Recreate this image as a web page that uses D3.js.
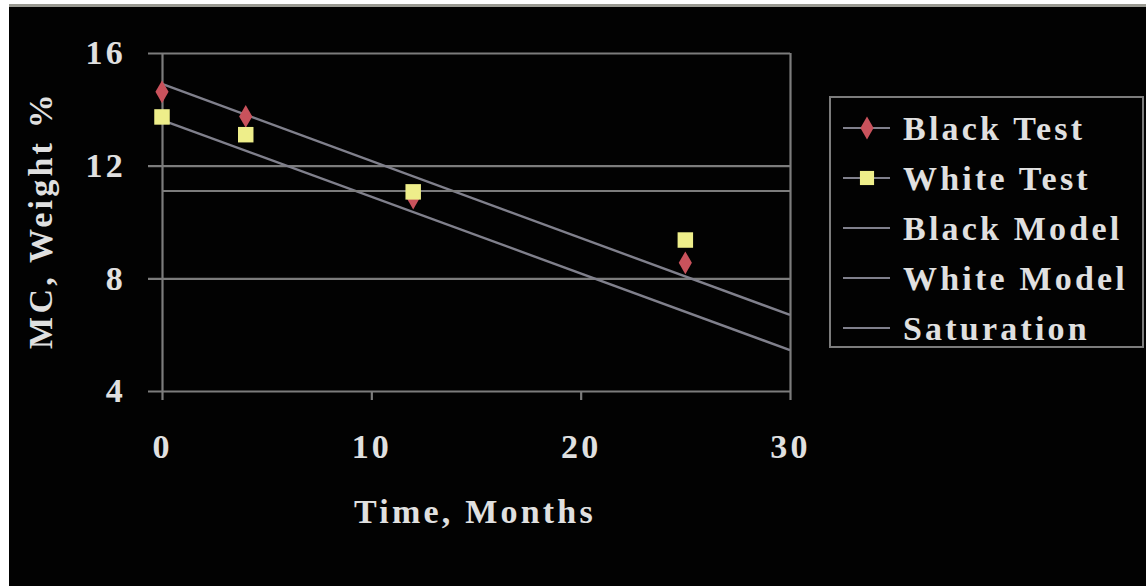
<!DOCTYPE html>
<html>
<head>
<meta charset="utf-8">
<script src="https://cdn.jsdelivr.net/npm/d3@7"></script>
<style>
  html, body { margin: 0; padding: 0; background: #ffffff; }
  svg { display: block; }
  text { font-family: "Liberation Serif", "Times New Roman", serif; font-weight: bold; fill: #e0e0e0; }
</style>
</head>
<body>
<svg id="chart" width="1146" height="586"></svg>
<script>
// ---- data ----
const months = [0, 4, 12, 25];
const blackTest = [14.62, 13.75, 10.85, 8.55];
const whiteTest = [13.73, 13.1, 11.07, 9.36];
const modelMonths = [0, 30];
const blackModel = [14.9, 6.7];
const whiteModel = [13.62, 5.45];
const saturation = [11.1, 11.1];
const xTicks = [0, 10, 20, 30];
const yTicks = [4, 8, 12, 16];
const legendLabels = ["Black Test", "White Test", "Black Model", "White Model", "Saturation"];

const svg = d3.select("#chart");
const W = 1146, H = 586;

// background panel
svg.append("rect").attr("x", 0).attr("y", 0).attr("width", W).attr("height", H).attr("fill", "#ffffff");
svg.append("rect").attr("x", 9).attr("y", 4).attr("width", W - 9).attr("height", 3).attr("fill", "#9a9a92");
svg.append("rect").attr("x", 9).attr("y", 7).attr("width", W - 9).attr("height", H - 7).attr("fill", "#020202");

const x = d3.scaleLinear().domain([0, 30]).range([162, 790]);
const y = d3.scaleLinear().domain([4, 16]).range([391, 53]);
const gridColor = "#7c7c7c";
const fontSize = 34;
const ls = 3.2;

// horizontal gridlines + y labels
const yAxis = svg.append("g").attr("transform", "translate(148,0)")
  .call(d3.axisLeft(y).tickValues(yTicks).tickSize(-(790 - 148)).tickPadding(22).tickFormat(d3.format("d")));
yAxis.select(".domain").remove();
yAxis.selectAll("line").attr("stroke", gridColor).attr("stroke-width", 2.2);
yAxis.selectAll("text").attr("font-size", fontSize).attr("letter-spacing", ls)
  .attr("font-family", "Liberation Serif").attr("fill", "#e0e0e0");

// x axis ticks + labels
const xAxis = svg.append("g").attr("transform", "translate(0,391)")
  .call(d3.axisBottom(x).tickValues(xTicks).tickSize(9).tickPadding(34).tickFormat(d3.format("d")));
xAxis.select(".domain").remove();
xAxis.selectAll("line").attr("stroke", gridColor).attr("stroke-width", 2.2);
xAxis.selectAll("text").attr("font-size", fontSize).attr("letter-spacing", ls)
  .attr("font-family", "Liberation Serif").attr("fill", "#e0e0e0");

// vertical frame lines at 0 and 30
const frame = svg.append("g").attr("transform", "translate(0,391)")
  .call(d3.axisTop(x).tickValues([0, 30]).tickSize(391 - 53).tickFormat(""));
frame.select(".domain").remove();
frame.selectAll("line").attr("stroke", gridColor).attr("stroke-width", 2.2);

// lines
const line = d3.line().x(d => x(d[0])).y(d => y(d[1]));
const lineColor = "#80808c";
[blackModel, whiteModel].forEach(s => {
  svg.append("path").datum(modelMonths.map((m, i) => [m, s[i]]))
    .attr("d", line).attr("fill", "none").attr("stroke", lineColor).attr("stroke-width", 2.4);
});
svg.append("path").datum(modelMonths.map((m, i) => [m, saturation[i]]))
  .attr("d", line).attr("fill", "none").attr("stroke", gridColor).attr("stroke-width", 2.2);

// markers
const redC = "#c9525c", yelC = "#eeee8a";
const diamond = d3.symbol().type(d3.symbolDiamond).size(150);
const square = d3.symbol().type(d3.symbolSquare).size(240);
svg.append("g").selectAll("path").data(months.map((m, i) => [m, blackTest[i]])).join("path")
  .attr("d", diamond).attr("transform", d => `translate(${x(d[0])},${y(d[1])})`).attr("fill", redC);
svg.append("g").selectAll("path").data(months.map((m, i) => [m, whiteTest[i]])).join("path")
  .attr("d", square).attr("transform", d => `translate(${x(d[0])},${y(d[1])})`).attr("fill", yelC);

// axis titles
svg.append("text").attr("x", 475).attr("y", 523).attr("text-anchor", "middle")
  .attr("font-size", fontSize).attr("letter-spacing", ls).text("Time, Months");
svg.append("text").attr("transform", "translate(52,220) rotate(-90)").attr("text-anchor", "middle")
  .attr("font-size", fontSize).attr("letter-spacing", ls).text("MC, Weight %");

// legend
const lg = svg.append("g");
lg.append("rect").attr("x", 830).attr("y", 97).attr("width", 313).attr("height", 250)
  .attr("fill", "none").attr("stroke", gridColor).attr("stroke-width", 2);
legendLabels.forEach((lab, i) => {
  const cy = 128 + i * 50;
  lg.append("line").attr("x1", 843).attr("x2", 890).attr("y1", cy).attr("y2", cy)
    .attr("stroke", lineColor).attr("stroke-width", 2);
  if (i === 0) lg.append("path").attr("d", diamond).attr("transform", `translate(867,${cy})`).attr("fill", redC);
  if (i === 1) lg.append("path").attr("d", d3.symbol().type(d3.symbolSquare).size(200)).attr("transform", `translate(867,${cy})`).attr("fill", yelC);
  lg.append("text").attr("x", 903).attr("y", cy).attr("dy", "0.34em")
    .attr("font-size", fontSize).attr("letter-spacing", ls).text(lab);
});
</script>
</body>
</html>
